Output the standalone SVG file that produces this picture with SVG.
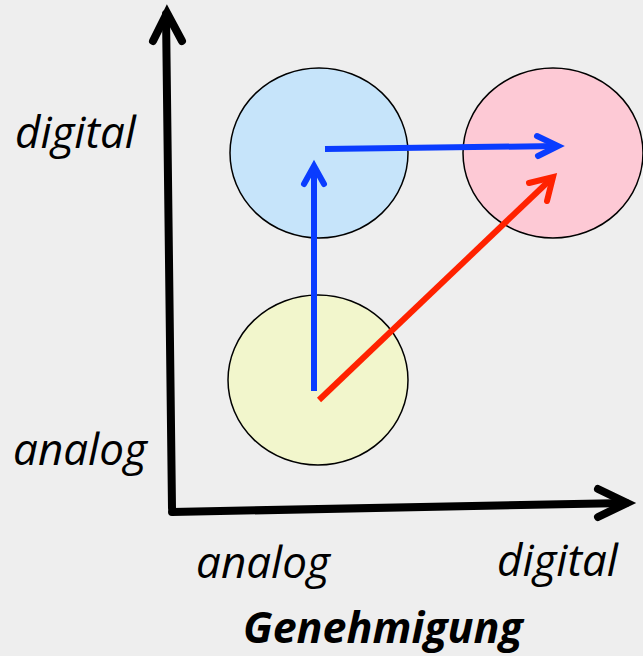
<svg xmlns="http://www.w3.org/2000/svg" width="643" height="656" viewBox="0 0 643 656">
<style>
.bg{fill:#eeeeee}
.node{stroke:#000;stroke-width:1.5}
.axis{fill:none;stroke:#000;stroke-width:8;stroke-linecap:round;stroke-linejoin:miter}
.blue{fill:none;stroke:#0a3cff;stroke-width:6;stroke-linecap:butt}
.bluehead{fill:none;stroke:#0a3cff;stroke-width:6;stroke-linecap:round}
.red{fill:none;stroke:#ff2200;stroke-width:6;stroke-linecap:butt}
.redhead{fill:none;stroke:#ff2200;stroke-width:6;stroke-linecap:round}
.lbl{font-family:"Open Sans","Noto Sans",sans-serif;font-style:italic;font-size:44px;fill:#000}
.title{font-family:"Open Sans","Noto Sans",sans-serif;font-style:italic;font-weight:bold;font-size:43px;fill:#000}
</style>
<rect class="bg" x="0" y="0" width="643" height="656"/>
<g id="node-blue"><ellipse class="node" cx="319" cy="153" rx="89" ry="85" fill="#c6e4fa"/></g>
<g id="node-pink"><ellipse class="node" cx="553" cy="153" rx="90" ry="85" fill="#fdc9d5"/></g>
<g id="node-yellow"><ellipse class="node" cx="318" cy="380" rx="90" ry="85" fill="#f2f6cc"/></g>
<g id="connectors">
<path class="axis" d="M172 508 L166 14" stroke-linecap="butt"/>
<path class="axis" d="M153 41 L167 13 L182 41"/>
<path class="axis" d="M172 512 L626 503" stroke-linecap="butt"/>
<path class="axis" d="M598 489 L627 503 L598 517"/>
<path class="blue" d="M314 391 L314 168"/>
<path class="bluehead" d="M304 184 L314 166 L324 184"/>
<path class="blue" d="M325 149 L557 146"/>
<path class="bluehead" d="M537 136 L558 146 L538 156"/>
<path class="red" d="M319 400 L552 178"/>
<path class="redhead" d="M529 183 L553 177 L547 201"/>
</g>
<text class="lbl" x="15" y="148">digital</text>
<text class="lbl" x="13" y="465">analog</text>
<text class="lbl" x="196" y="578">analog</text>
<text class="lbl" x="497" y="576">digital</text>
<text class="title" x="243" y="643">Genehmigung</text>
</svg>
